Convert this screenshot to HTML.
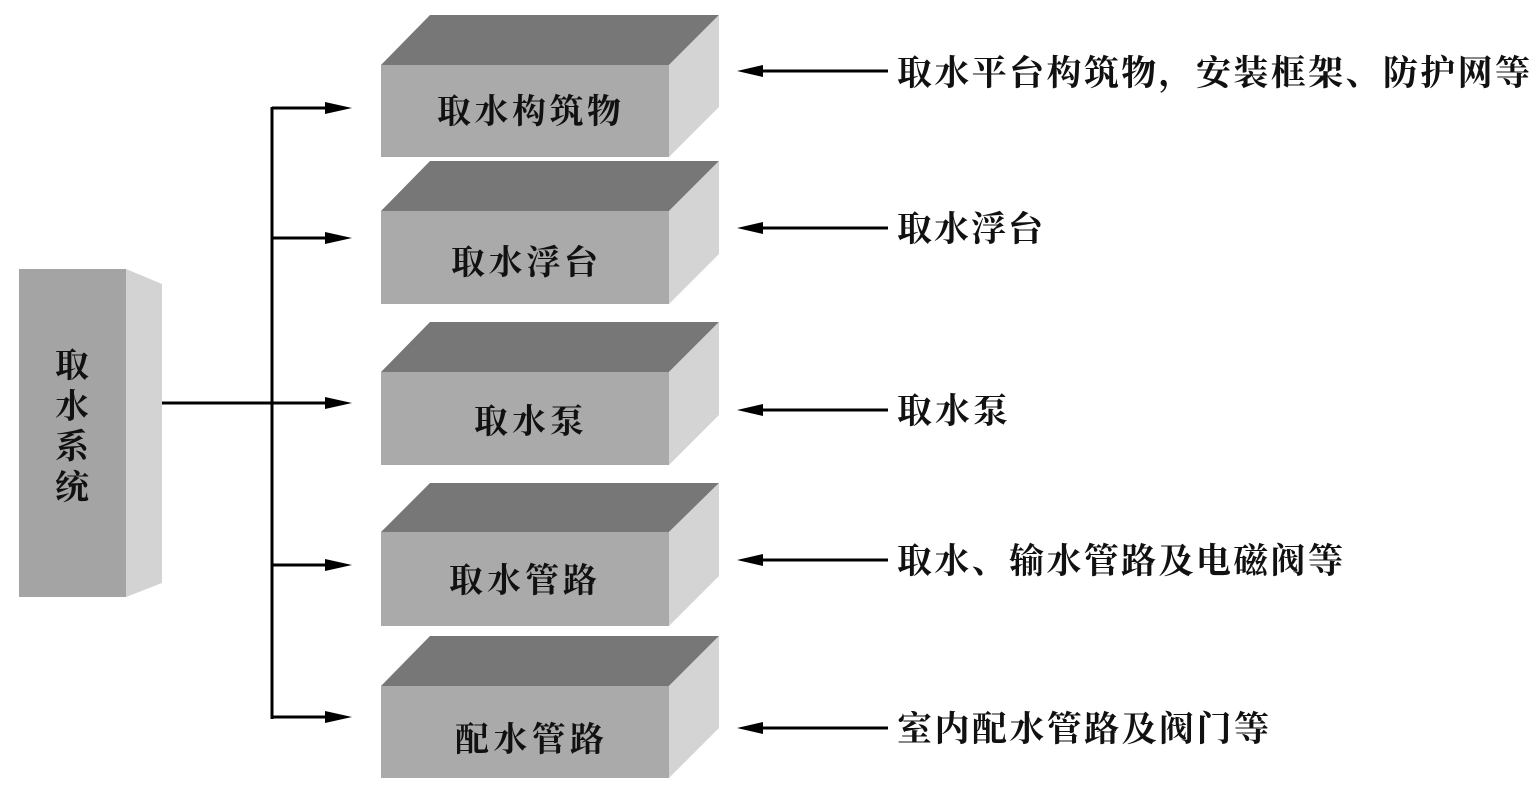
<!DOCTYPE html>
<html><head><meta charset="utf-8"><style>html,body{margin:0;padding:0;background:#fff}svg{display:block}text{font-family:"Liberation Serif","Noto Serif CJK SC","Noto Sans CJK SC",serif;font-weight:bold;fill:#111}</style></head><body>
<svg width="1536" height="790" viewBox="0 0 1536 790" xmlns="http://www.w3.org/2000/svg">
<defs><marker id="a" markerWidth="10" markerHeight="8" refX="10" refY="4" orient="auto" markerUnits="userSpaceOnUse"><path d="M0,0 L10,4 L0,8 Z" fill="#000"/></marker></defs>
<!-- left box -->
<rect x="19" y="269" width="107" height="328" fill="#a4a4a4"/>
<polygon points="126,269 162,284 162,583 126,597" fill="#d3d3d3"/>
<text x="72" y="377" font-size="34" text-anchor="middle">取</text>
<text x="72" y="418" font-size="34" text-anchor="middle">水</text>
<text x="72" y="458" font-size="34" text-anchor="middle">系</text>
<text x="72" y="499" font-size="34" text-anchor="middle">统</text>
<!-- connectors -->
<g stroke="#000" stroke-width="3" fill="none">
<line x1="162" y1="403" x2="272" y2="403"/>
<line x1="272" y1="107" x2="272" y2="719"/>
</g>
<g stroke="#000" stroke-width="3">
<line x1="272" y1="108" x2="330" y2="108"/><polygon points="325,102 352,108 325,114" fill="#000" stroke="none"/>
<line x1="272" y1="238" x2="330" y2="238"/><polygon points="325,232 352,238 325,244" fill="#000" stroke="none"/>
<line x1="272" y1="403" x2="330" y2="403"/><polygon points="325,397 352,403 325,409" fill="#000" stroke="none"/>
<line x1="272" y1="565" x2="330" y2="565"/><polygon points="325,559 352,565 325,571" fill="#000" stroke="none"/>
<line x1="272" y1="717" x2="330" y2="717"/><polygon points="325,711 352,717 325,723" fill="#000" stroke="none"/>
</g>
<!-- boxes -->
<g>
<polygon points="381,65 430,15 719,15 669,65" fill="#777"/><rect x="381" y="65" width="288" height="92" fill="#aaa"/><polygon points="669,65 719,15 719,107 669,157" fill="#d4d4d4"/>
<polygon points="381,211 430,161 719,161 669,211" fill="#777"/><rect x="381" y="211" width="288" height="93" fill="#aaa"/><polygon points="669,211 719,161 719,254 669,304" fill="#d4d4d4"/>
<polygon points="381,372 430,322 719,322 669,372" fill="#777"/><rect x="381" y="372" width="288" height="93" fill="#aaa"/><polygon points="669,372 719,322 719,415 669,465" fill="#d4d4d4"/>
<polygon points="381,532 430,483 719,483 669,532" fill="#777"/><rect x="381" y="532" width="288" height="94" fill="#aaa"/><polygon points="669,532 719,483 719,576 669,626" fill="#d4d4d4"/>
<polygon points="381,686 430,636 719,636 669,686" fill="#777"/><rect x="381" y="686" width="288" height="92" fill="#aaa"/><polygon points="669,686 719,636 719,728 669,778" fill="#d4d4d4"/>
</g>
<text x="437" y="123" font-size="34" textLength="184">取水构筑物</text>
<text x="451" y="274" font-size="34" textLength="147">取水浮台</text>
<text x="474" y="433" font-size="34" textLength="110">取水泵</text>
<text x="449" y="592" font-size="34" textLength="148">取水管路</text>
<text x="455" y="751" font-size="34" textLength="149">配水管路</text>
<!-- right arrows -->
<g stroke="#000" stroke-width="3">
<line x1="888" y1="71" x2="755" y2="71"/><polygon points="763,65 737,71 763,77" fill="#000" stroke="none"/>
<line x1="888" y1="228" x2="755" y2="228"/><polygon points="763,222 737,228 763,234" fill="#000" stroke="none"/>
<line x1="888" y1="410" x2="755" y2="410"/><polygon points="763,404 737,410 763,416" fill="#000" stroke="none"/>
<line x1="888" y1="560" x2="755" y2="560"/><polygon points="763,554 737,560 763,566" fill="#000" stroke="none"/>
<line x1="888" y1="728" x2="755" y2="728"/><polygon points="763,722 737,728 763,734" fill="#000" stroke="none"/>
</g>
<text x="897" y="85" font-size="35" textLength="633">取水平台构筑物，安装框架、防护网等</text>
<text x="897" y="241" font-size="35" textLength="146">取水浮台</text>
<text x="897" y="423" font-size="35" textLength="111">取水泵</text>
<text x="897" y="573" font-size="35" textLength="446">取水、输水管路及电磁阀等</text>
<text x="897" y="741" font-size="35" textLength="372">室内配水管路及阀门等</text>
</svg>
</body></html>
